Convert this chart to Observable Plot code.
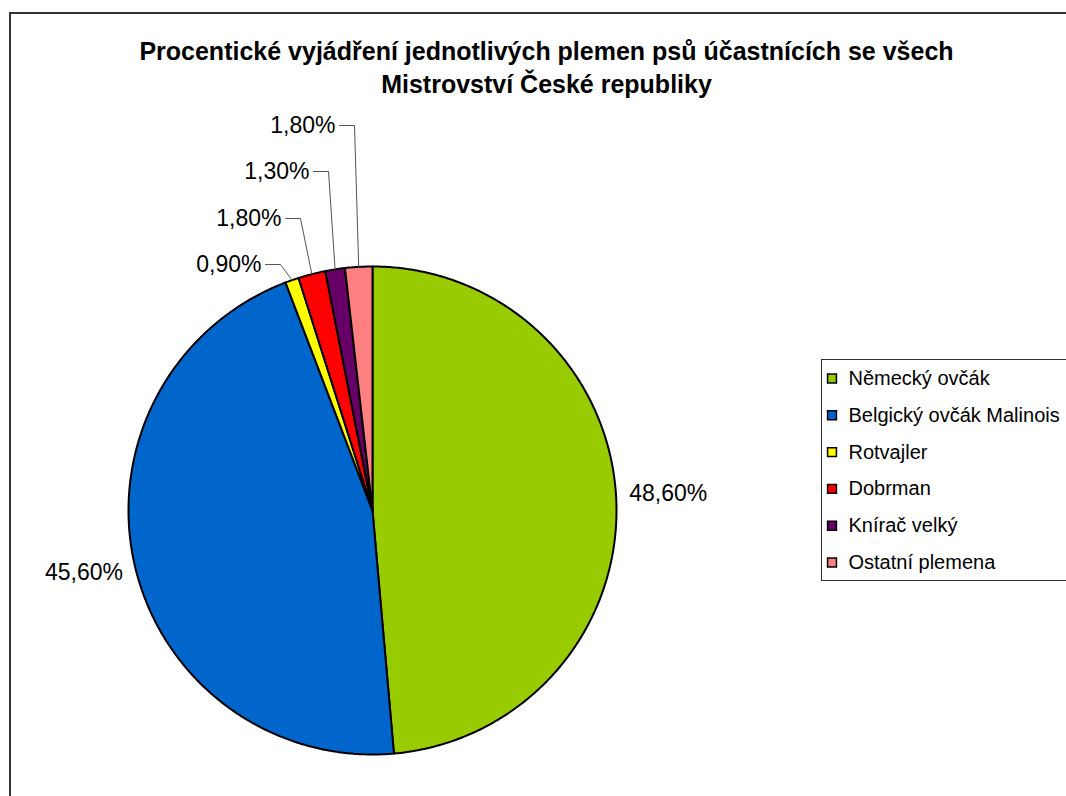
<!DOCTYPE html>
<html>
<head>
<meta charset="utf-8">
<script src="https://cdn.jsdelivr.net/npm/d3@7"></script>
<script src="https://cdn.jsdelivr.net/npm/@observablehq/plot@0.6"></script>
<style>
  html, body { margin: 0; padding: 0; background: #fff; }
  #wrap { position: relative; width: 1066px; height: 796px; overflow: hidden; font-family: "Liberation Sans", Arial, sans-serif; }
  #frame { position: absolute; left: 9px; top: 12px; width: 1100px; height: 900px; border: 2px solid #333; box-sizing: border-box; }
  #legendbox { position: absolute; left: 821px; top: 359px; width: 300px; height: 222px; border: 1px solid #333; box-sizing: border-box; }
  #chart { position: absolute; left: 0; top: 0; }
</style>
</head>
<body>
<div id="wrap">
  <div id="frame"></div>
  <div id="legendbox"></div>
  <div id="chart"></div>
</div>
<script>
// ---- data ----
const breeds = ["Německý ovčák", "Belgický ovčák Malinois", "Rotvajler", "Dobrman", "Knírač velký", "Ostatní plemena"];
const percents = [48.6, 45.6, 0.9, 1.8, 1.3, 1.8];
const percentLabels = ["48,60%", "45,60%", "0,90%", "1,80%", "1,30%", "1,80%"];
const colors = ["#99CC00", "#0066CC", "#FFFF00", "#FF0000", "#660066", "#FF8080"];
const titleLines = ["Procentické vyjádření jednotlivých plemen psů účastnících se všech", "Mistrovství České republiky"];

// ---- layout ----
const W = 1066, H = 796;
const cx = 372, cy = 510, R = 244;
const outerLabelR = 296;
// leader elbow positions for small slices (index -> elbow)
const leaderElbows = {2: [280, 264], 3: [300, 218], 4: [328, 171], 5: [354, 125]};

const total = d3.sum(percents);
let cum = 0;
const slices = breeds.map((name, i) => {
  const a0 = cum / total * 2 * Math.PI;
  cum += percents[i];
  const a1 = cum / total * 2 * Math.PI;
  return {name, i, a0, a1, mid: (a0 + a1) / 2};
});
const px = (a, r) => cx + r * Math.sin(a);
const py = (a, r) => cy - r * Math.cos(a);

// slice polygons
const slicePts = [];
for (const s of slices) {
  slicePts.push({name: s.name, x: cx, y: cy});
  const n = Math.max(2, Math.ceil((s.a1 - s.a0) / (Math.PI / 360)));
  for (let k = 0; k <= n; k++) {
    const a = s.a0 + (s.a1 - s.a0) * k / n;
    slicePts.push({name: s.name, x: px(a, R), y: py(a, R)});
  }
}

// labels
const bigLabels = [];
const smallLabels = [];
const leaderPts = [];
for (const s of slices) {
  if (leaderElbows[s.i]) {
    const [ex, ey] = leaderElbows[s.i];
    smallLabels.push({x: ex - 19, y: ey, text: percentLabels[s.i]});
    leaderPts.push({name: s.name, x: ex - 15, y: ey});
    leaderPts.push({name: s.name, x: ex, y: ey});
    leaderPts.push({name: s.name, x: px(s.mid, R), y: py(s.mid, R)});
  } else {
    bigLabels.push({x: px(s.mid, outerLabelR), y: py(s.mid, outerLabelR) - 4, text: percentLabels[s.i]});
  }
}

const legendRows = breeds.map((name, i) => ({name, x: 831.5, tx: 848, y: 378 + i * 36.8}));
const titleRows = titleLines.map((t, i) => ({text: t, x: 546, y: 51 + i * 33}));

const font = "Liberation Sans, Arial, sans-serif";
const chart = Plot.plot({
  width: W, height: H,
  margin: 0,
  style: {background: "transparent", fontFamily: font, overflow: "visible"},
  x: {domain: [0, W], range: [0, W], axis: null},
  y: {domain: [0, H], range: [0, H], axis: null},
  color: {domain: breeds, range: colors},
  marks: [
    Plot.line(slicePts, {x: "x", y: "y", z: "name", fill: "name", stroke: "#000", strokeWidth: 2, curve: "linear-closed", strokeLinejoin: "round"}),
    Plot.line(leaderPts, {x: "x", y: "y", z: "name", stroke: "#555", strokeWidth: 1}),
    Plot.text(bigLabels, {x: "x", y: "y", text: "text", fontSize: 23, fill: "#000", textAnchor: "middle"}),
    Plot.text(smallLabels, {x: "x", y: "y", text: "text", fontSize: 23, fill: "#000", textAnchor: "end"}),
    Plot.text(titleRows, {x: "x", y: "y", text: "text", fontSize: 25, fontWeight: "bold", fill: "#000", textAnchor: "middle"}),
    Plot.dot(legendRows, {x: "x", y: "y", fill: "name", symbol: "square", r: 5, stroke: "#000", strokeWidth: 1.5}),
    Plot.text(legendRows, {x: "tx", y: "y", text: "name", fontSize: 20, fill: "#000", textAnchor: "start"})
  ]
});
document.getElementById("chart").appendChild(chart);
</script>
</body>
</html>
